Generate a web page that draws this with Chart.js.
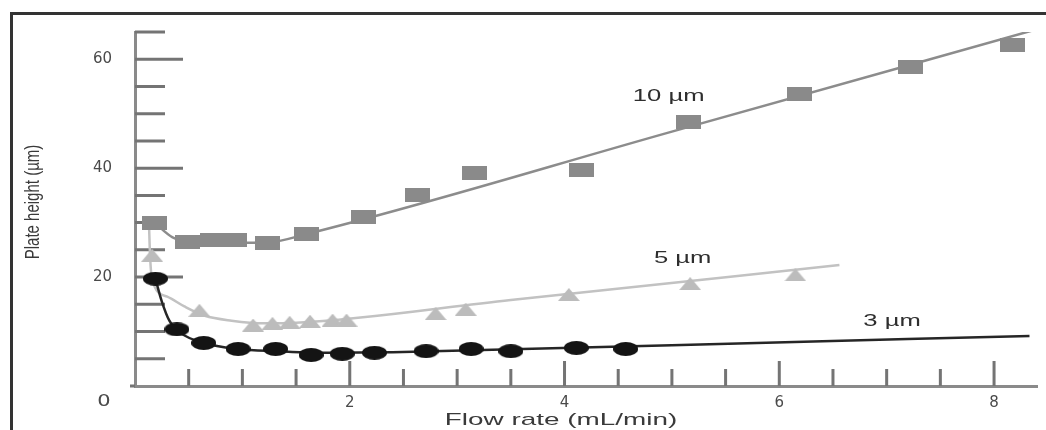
<!DOCTYPE html>
<html>
<head>
<meta charset="utf-8">
<script src="https://cdn.jsdelivr.net/npm/chart.js@4/dist/chart.umd.min.js"></script>
<style>
  html, body { margin: 0; padding: 0; background: #fff; overflow: hidden; }
  #wrap { position: relative; width: 1046px; height: 430px; overflow: hidden; }
  #frame { position: absolute; left: 10px; top: 12px; width: 1100px; height: 500px; border: 3px solid #333; }
  #chart { position: absolute; left: 0; top: 0; }
</style>
</head>
<body>
<div id="wrap">
  <div id="frame"></div>
  <canvas id="chart" width="1046" height="430"></canvas>
</div>
<script>
// measured points (flow rate mL/min, plate height µm)
const flow10 = [0.18, 0.49, 0.72, 0.93, 1.23, 1.60, 2.13, 2.63, 3.16, 4.16, 5.15, 6.19, 7.22, 8.17];
const plate10 = [30.0, 26.4, 26.8, 26.8, 26.2, 27.9, 31.1, 35.1, 39.1, 39.7, 48.5, 53.6, 58.5, 62.7];

const flow5 = [0.16, 0.60, 1.10, 1.28, 1.44, 1.63, 1.84, 1.97, 2.80, 3.08, 4.04, 5.17, 6.15];
const plate5 = [24.0, 13.9, 11.2, 11.5, 11.7, 11.9, 12.1, 12.1, 13.3, 14.1, 16.8, 18.8, 20.4];

const flow3 = [0.19, 0.39, 0.64, 0.96, 1.31, 1.64, 1.93, 2.23, 2.71, 3.13, 3.50, 4.11, 4.57];
const plate3 = [19.7, 10.4, 7.9, 6.8, 6.8, 5.7, 5.9, 6.1, 6.4, 6.8, 6.4, 7.0, 6.8];

// fitted curves
const fitFlow10 = [0.18, 0.35, 0.55, 0.9, 1.25, 1.6, 5.0, 8.38];
const fitPlate10 = [30.0, 27.3, 26.4, 26.3, 26.4, 27.9, 46.7, 65.4];

const fitFlow5 = [0.13, 0.14, 0.16, 0.3, 0.46, 0.65, 0.9, 1.2, 1.5, 3.5, 6.56];
const fitPlate5 = [30.0, 24.0, 19.5, 16.4, 14.6, 12.9, 12.0, 11.5, 11.6, 15.8, 22.2];

const fitFlow3 = [0.19, 0.25, 0.32, 0.42, 0.64, 0.96, 1.3, 1.8, 2.4, 5.0, 8.33];
const fitPlate3 = [19.7, 15.5, 12.0, 9.8, 7.9, 6.8, 6.4, 6.1, 6.2, 7.5, 9.2];

const seriesNames = ["10 \u00b5m", "5 \u00b5m", "3 \u00b5m"];

const xTickLabels = [2, 4, 6, 8];
const yTickLabels = [20, 40, 60];
const xMinorTicks = [0.5, 1, 1.5, 2.5, 3, 3.5, 4.5, 5, 5.5, 6.5, 7, 7.5];
const yMinorTicks = [5, 10, 15, 25, 30, 35, 45, 50, 55, 65];

function zip(xs, ys) {
    return xs.map((v, i) => ({ x: v, y: ys[i] }));
}

function makeMarker(w, h, color, shape) {
    const c = document.createElement("canvas");
    c.width = w;
    c.height = h;
    const g = c.getContext("2d");
    g.fillStyle = color;
    g.beginPath();
    if (shape === "ellipse") {
        g.ellipse(w / 2, h / 2, w / 2, h / 2, 0, 0, Math.PI * 2);
    } else if (shape === "rect") {
        g.rect(0, 0, w, h);
    } else {
        g.moveTo(w / 2, 0);
        g.lineTo(w, h);
        g.lineTo(0, h);
        g.closePath();
    }
    g.fill();
    return c;
}

function stretchText(ctx, text, px, py, font, color, sx, sy, rot) {
    ctx.save();
    ctx.translate(px, py);
    if (rot) ctx.rotate(rot);
    ctx.scale(sx, sy);
    ctx.font = font;
    ctx.fillStyle = color;
    ctx.textAlign = "center";
    ctx.textBaseline = "middle";
    ctx.fillText(text, 0, 0);
    ctx.restore();
}

const extras = {
    id: "extras",
    beforeDatasetsDraw(chart) {
        const { ctx, scales: { x, y } } = chart;
        const x0 = x.getPixelForValue(0);
        const y0 = y.getPixelForValue(0);
        ctx.save();
        ctx.strokeStyle = "#747474";
        ctx.lineWidth = 2;
        ctx.beginPath();
        yTickLabels.forEach(v => { const p = y.getPixelForValue(v); ctx.moveTo(x0, p); ctx.lineTo(x0 + 48, p); });
        yMinorTicks.forEach(v => { const p = y.getPixelForValue(v); ctx.moveTo(x0, p); ctx.lineTo(x0 + 30, p); });
        xTickLabels.forEach(v => { const p = x.getPixelForValue(v); ctx.moveTo(p, y0); ctx.lineTo(p, y0 - 25); });
        xMinorTicks.forEach(v => { const p = x.getPixelForValue(v); ctx.moveTo(p, y0); ctx.lineTo(p, y0 - 17); });
        // axis line runs a little past the corner
        ctx.moveTo(x0 - 5, y0);
        ctx.lineTo(x0, y0);
        ctx.lineWidth = 3;
        ctx.stroke();
        ctx.restore();
    },
    afterDraw(chart) {
        const { ctx, scales: { x, y } } = chart;
        const f = "'Liberation Sans', Arial, sans-serif";
        stretchText(ctx, seriesNames[0], x.getPixelForValue(4.97), y.getPixelForValue(53.2), "16px " + f, "#2e2e2e", 1.6, 1, 0);
        stretchText(ctx, seriesNames[1], x.getPixelForValue(5.1), y.getPixelForValue(23.4), "16px " + f, "#2e2e2e", 1.6, 1, 0);
        stretchText(ctx, seriesNames[2], x.getPixelForValue(7.05), y.getPixelForValue(11.8), "16px " + f, "#2e2e2e", 1.6, 1, 0);
        stretchText(ctx, "Flow rate (mL/min)", 561, 420, "17px " + f, "#3a3a3a", 1.64, 1, 0);
        stretchText(ctx, "Plate height (\u00b5m)", 33, 202, "15px " + f, "#3a3a3a", 1, 1.35, -Math.PI / 2);
        stretchText(ctx, "0", 104, 402, "15px 'DejaVu Sans'", "#4a4a4a", 1.4, 1, 0);
    }
};

Chart.defaults.font.family = "'Liberation Sans', Arial, sans-serif";

new Chart(document.getElementById("chart"), {
    type: "scatter",
    data: {
        datasets: [
            {
                label: seriesNames[2],
                data: zip(flow3, plate3),
                pointStyle: makeMarker(25, 14, "#141414", "ellipse"),
                pointRadius: 8,
                showLine: false
            },
            {
                label: seriesNames[0],
                data: zip(flow10, plate10),
                pointStyle: makeMarker(25, 14, "#8a8a8a", "rect"),
                pointRadius: 8,
                showLine: false
            },
            {
                label: seriesNames[1],
                data: zip(flow5, plate5),
                pointStyle: makeMarker(22, 13, "#bcbcbc", "tri"),
                pointRadius: 8,
                showLine: false
            },
            {
                label: seriesNames[2] + " fit",
                data: zip(fitFlow3, fitPlate3),
                showLine: true,
                pointRadius: 0,
                borderColor: "#262626",
                borderWidth: 2.5,
                cubicInterpolationMode: "monotone"
            },
            {
                label: seriesNames[0] + " fit",
                data: zip(fitFlow10, fitPlate10),
                showLine: true,
                pointRadius: 0,
                borderColor: "#8c8c8c",
                borderWidth: 2.5,
                cubicInterpolationMode: "monotone"
            },
            {
                label: seriesNames[1] + " fit",
                data: zip(fitFlow5, fitPlate5),
                showLine: true,
                pointRadius: 0,
                borderColor: "#c2c2c2",
                borderWidth: 2.5,
                cubicInterpolationMode: "monotone"
            }
        ]
    },
    options: {
        responsive: false,
        animation: false,
        layout: { padding: { left: 0, top: 28, right: 6, bottom: 0 } },
        plugins: {
            legend: { display: false },
            tooltip: { enabled: false }
        },
        scales: {
            x: {
                type: "linear",
                min: 0,
                max: 8.4,
                afterFit: s => { s.height = 44; },
                afterBuildTicks: s => { s.ticks = xTickLabels.map(v => ({ value: v })); },
                grid: { display: false, drawTicks: false },
                border: { display: true, color: "#8a8a8a", width: 3 },
                ticks: {
                    padding: 8,
                    color: "#4a4a4a",
                    font: { family: "'DejaVu Sans'", size: 15 }
                }
            },
            y: {
                type: "linear",
                min: 0,
                max: 65,
                afterFit: s => { s.width = 135; },
                afterBuildTicks: s => { s.ticks = yTickLabels.map(v => ({ value: v })); },
                grid: { display: false, drawTicks: false },
                border: { display: true, color: "#8a8a8a", width: 3 },
                ticks: {
                    padding: 23,
                    color: "#4a4a4a",
                    font: { family: "'DejaVu Sans'", size: 15 }
                }
            }
        }
    },
    plugins: [extras]
});
</script>
</body>
</html>
